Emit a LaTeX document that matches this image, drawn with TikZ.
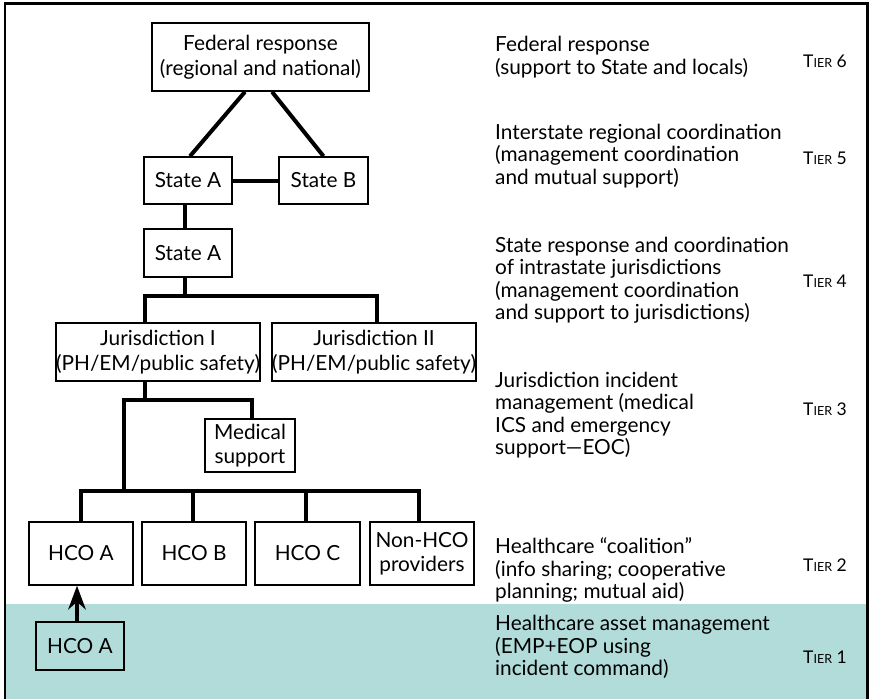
\documentclass[tikz,border=0pt]{standalone}
\usepackage{fontspec}
\setmainfont{Lato}
\usetikzlibrary{arrows.meta,calc}
\definecolor{teal1}{HTML}{B2DCDA}
\newcommand\tierlbl[1]{{\fontsize{17.5}{17.5}\selectfont T}{\fontsize{12.5}{13}\selectfont IER}{\fontsize{17.5}{17.5}\selectfont\ #1}}
\begin{document}
\begin{tikzpicture}[x=1pt,y=-1pt,
 box/.style={draw, line width=1.6pt, align=center, inner sep=0pt, font=\fontsize{20.8}{24.5}\selectfont},
 conn/.style={line width=4pt},
 desc/.style={anchor=west, align=left, inner sep=0pt, font=\fontsize{20.8}{22.5}\selectfont},
 tier/.style={anchor=west, inner sep=0pt}]
\useasboundingbox (0,0) rectangle (870,699);
\fill[teal1] (6,604) rectangle (867,699);
\draw[line width=2.6pt, black] (5,699) -- (5,3.5) -- (867.5,3.5) -- (867.5,699);

% boxes
\node[box, minimum width=217pt, minimum height=68pt] (fed) at (260.5,57) {Federal response\\(regional and national)};
\node[box, minimum width=88pt, minimum height=47pt] (sa1) at (188,180.5) {State A};
\node[box, minimum width=89pt, minimum height=47pt] (sb) at (323.5,180.5) {State B};
\node[box, minimum width=88pt, minimum height=48pt] (sa2) at (188,253) {State A};
\node[box, minimum width=198pt, minimum height=58pt] (j1) at (158,352) {Jurisdiction I\\(PH/EM/public safety)};
\node[box, minimum width=198pt, minimum height=58pt] (j2) at (374,352) {Jurisdiction II\\(PH/EM/public safety)};
\node[box, minimum width=90pt, minimum height=53pt] (med) at (250,445.5) {Medical\\support};
\node[box, minimum width=104pt, minimum height=63pt] (hcoa) at (81,553.5) {HCO A};
\node[box, minimum width=104pt, minimum height=63pt] (hcob) at (194,553.5) {HCO B};
\node[box, minimum width=105pt, minimum height=63pt] (hcoc) at (307.5,553.5) {HCO C};
\node[box, minimum width=104pt, minimum height=63pt] (non) at (422,553.5) {Non-HCO\\providers};
\node[box, minimum width=88pt, minimum height=48pt] (hcoa2) at (80,646) {HCO A};

% bus points
\coordinate (b1) at (185,296);
\coordinate (b2) at (145,400);
\coordinate (b3) at (124,491);

% connectors
\draw[conn] ([xshift=-15.5pt]fed.south) -- ([xshift=2pt]sa1.north);
\draw[conn] ([xshift=11.5pt]fed.south) -- (sb.north);
\draw[conn] (sa1.east) -- (sb.west);
\draw[conn] ([xshift=-3pt]sa1.south) -- ([xshift=-3pt]sa2.north);
\draw[conn] ([xshift=-3pt]sa2.south) -- (b1);
\draw[conn] ([xshift=-13pt]j1.north) |- (b1) -| ([xshift=3pt]j2.north);
\draw[conn] ([xshift=-13pt]j1.south) -- (b2);
\draw[conn] (b3) |- (b2) -| ([xshift=2pt]med.north);
\draw[conn] (hcoa.north) |- (b3) -| ([xshift=-3pt]non.north);
\draw[conn] ([xshift=-1pt]hcob.north) -- ([xshift=-1pt]hcob.north |- b3);
\draw[conn] ([xshift=-1.5pt]hcoc.north) -- ([xshift=-1.5pt]hcoc.north |- b3);
\draw[line width=4pt, -{Stealth[length=24pt,width=18pt,inset=8pt,line width=0pt]}] ([xshift=-3pt]hcoa2.north) -- ([xshift=-4pt]hcoa.south);

% descriptions
\node[desc] (d6) at (495,57) {Federal response\\(support to State and locals)};
\node[desc] (d5) at (495,156) {Interstate regional coordination\\(management coordination\\and mutual support)};
\node[desc] (d4) at (495,280) {State response and coordination\\of intrastate jurisdictions\\(management coordination\\and support to jurisdictions)};
\node[desc] (d3) at (495,415) {Jurisdiction incident\\management (medical\\ICS and emergency\\support---EOC)};
\node[desc] (d2) at (495,570) {Healthcare ``coalition''\\(info sharing; cooperative\\planning; mutual aid)};
\node[desc] (d1) at (495,647) {Healthcare asset management\\(EMP+EOP using\\incident command)};

% tiers
\node[tier] (t6) at (803,61) {\tierlbl{6}};
\node[tier] (t5) at (803,158) {\tierlbl{5}};
\node[tier] (t4) at (803,281) {\tierlbl{4}};
\node[tier] (t3) at (803,409) {\tierlbl{3}};
\node[tier] (t2) at (803,565) {\tierlbl{2}};
\node[tier] (t1) at (803,657) {\tierlbl{1}};
\end{tikzpicture}
\end{document}
